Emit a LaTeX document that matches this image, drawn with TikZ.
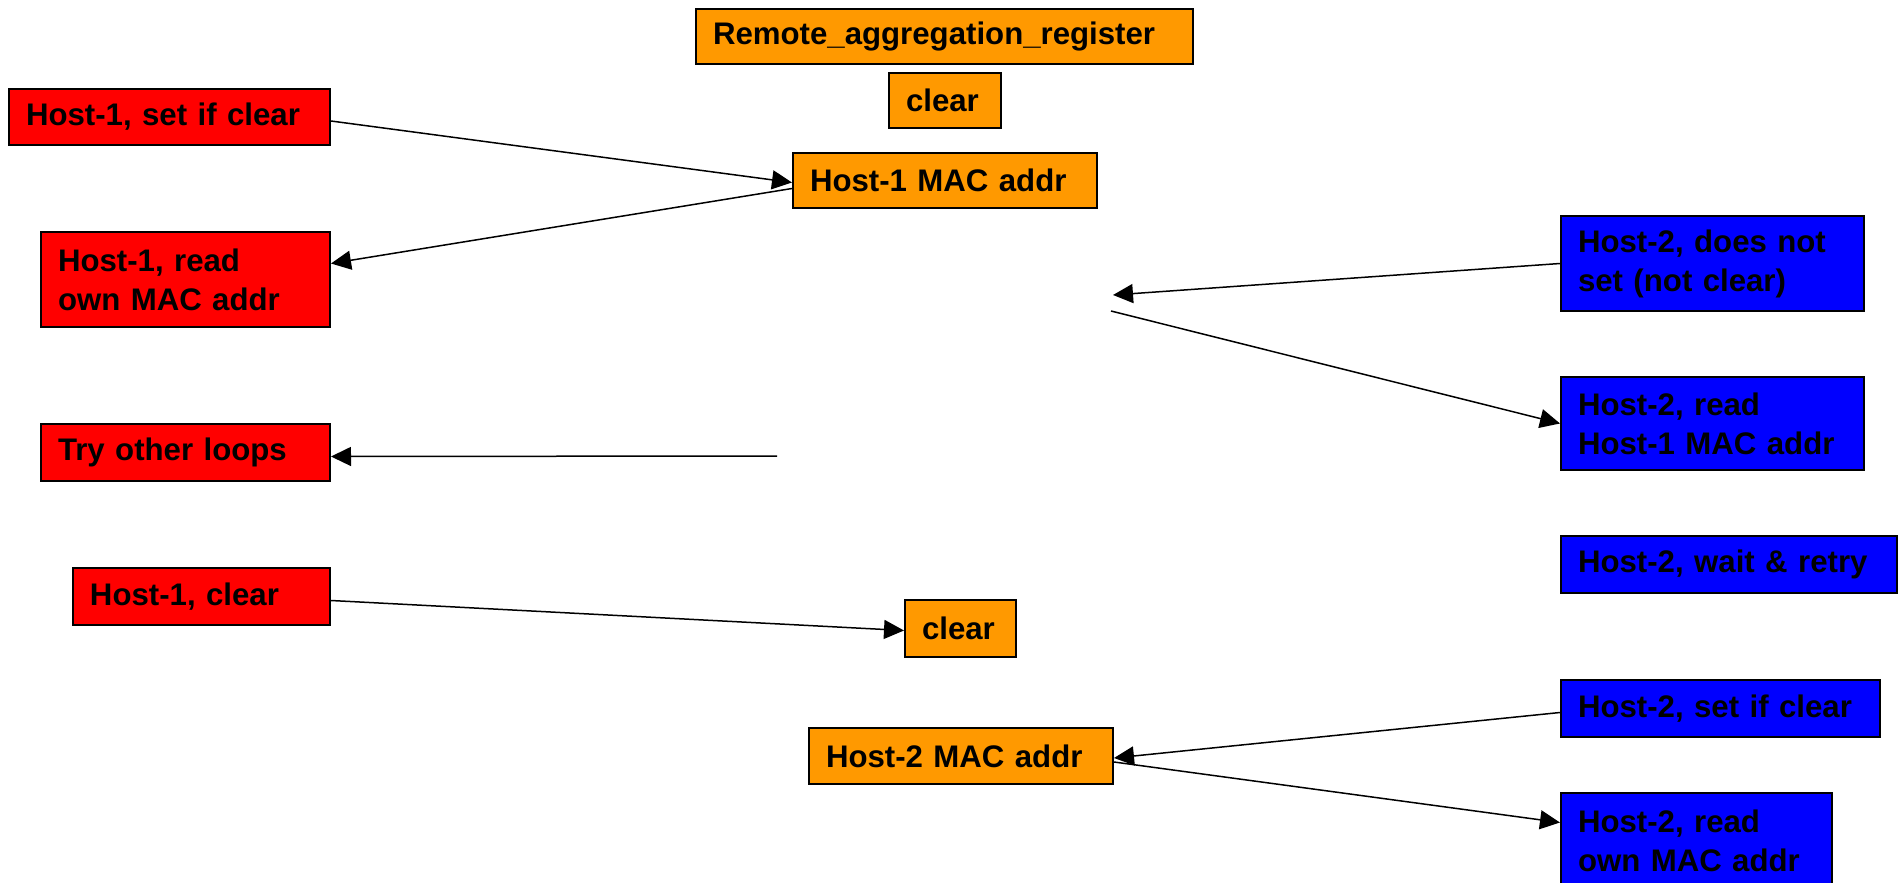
\documentclass[tikz,border=0pt]{standalone}
\usepackage{fontspec}
\setmainfont{Liberation Sans}
\usepackage{tikz}
\usetikzlibrary{arrows.meta}

\definecolor{regorange}{RGB}{255,153,0}
\definecolor{hostred}{RGB}{255,0,0}
\definecolor{hostblue}{RGB}{0,0,255}

\tikzset{
  box/.style={draw=black,line width=1pt,anchor=north west,align=left,
    inner xsep=8.5pt,inner ysep=0pt,font=\bfseries\fontsize{15.6}{19.5}\selectfont},
  regbox/.style={box,fill=regorange},
  hostone/.style={box,fill=hostred},
  hosttwo/.style={box,fill=hostblue},
  link/.style={line width=0.75pt,-{Triangle[length=10pt,width=9.5pt]}}
}

\begin{document}
\begin{tikzpicture}[x=0.5pt,y=-0.5pt]
\useasboundingbox (0,0) rectangle (1902,883);

% register column
\node[regbox,text width=231.5pt,minimum height=27.5pt] (reg) at (695,8) {Remote\_aggregation\_register};
\node[regbox,text width=39pt,minimum height=27.5pt] (clrtop) at (888,72) {clear};
\node[regbox,text width=135pt,minimum height=27.5pt] (macone) at (792,152) {Host-1 MAC addr};
\node[regbox,text width=38.5pt,minimum height=28.5pt] (clrbot) at (904,599) {clear};
\node[regbox,text width=135pt,minimum height=28pt] (mactwo) at (808,727) {Host-2 MAC addr};

% host 1
\node[hostone,text width=143.5pt,minimum height=28pt] (hoset) at (8,88) {Host-1, set if clear};
\node[hostone,text width=127.5pt,minimum height=47.5pt] (horead) at (40,231) {Host-1, read\\own MAC addr};
\node[hostone,text width=127.5pt,minimum height=28.5pt] (hotry) at (40,423) {Try other loops};
\node[hostone,text width=111.5pt,minimum height=28.5pt] (hoclr) at (72,567) {Host-1, clear};

% host 2
\node[hosttwo,text width=134.5pt,minimum height=47.5pt] (htnot) at (1560,215) {Host-2, does not\\set (not clear)};
\node[hosttwo,text width=134.5pt,minimum height=46.5pt] (htread) at (1560,376) {Host-2, read\\Host-1 MAC addr};
\node[hosttwo,text width=151pt,minimum height=28.5pt] (htwait) at (1560,535) {Host-2, wait \& retry};
\node[hosttwo,text width=142.5pt,minimum height=28.5pt] (htset) at (1560,679) {Host-2, set if clear};
\node[hosttwo,text width=118.5pt,minimum height=47.5pt] (htown) at (1560,792) {Host-2, read\\own MAC addr};

% free ends
\coordinate (failin) at (1113,295);
\coordinate (failout) at (1111,311);
\coordinate (tryfrom) at (777,456);

\draw[link] ([yshift=-2pt]hoset.east) -- ([yshift=-1pt]macone.west);
\draw[link] ([yshift=-4pt]macone.west) -- ([yshift=8pt]horead.east);
\draw[link] (htnot.west) -- (failin);
\draw[link] (failout) -- (htread.west);
\draw[link] (tryfrom) -- ([yshift=-2pt]hotry.east);
\draw[link] ([yshift=-2pt]hoclr.east) -- ([yshift=-1pt]clrbot.west);
\draw[link] ([yshift=-2pt]htset.west) -- ([yshift=-1pt]mactwo.east);
\draw[link] ([yshift=-3pt]mactwo.east) -- ([yshift=9pt]htown.west);
\end{tikzpicture}
\end{document}
